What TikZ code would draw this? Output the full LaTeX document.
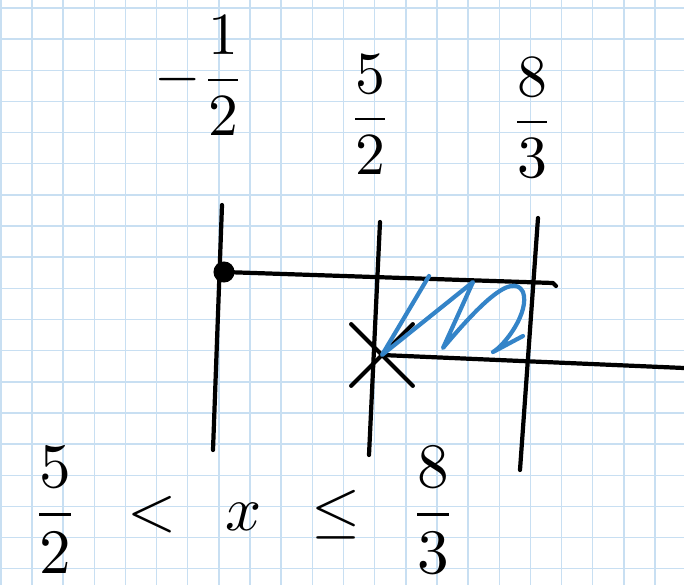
\documentclass[tikz,border=0pt]{standalone}
\usepackage{amsmath,amssymb}
\usetikzlibrary{shapes.misc}
\definecolor{gridblue}{RGB}{200,223,242}
\definecolor{hatchblue}{RGB}{52,132,200}
\newcommand{\bigmath}[2][3.4]{\scalebox{#1}{$\displaystyle #2$}}

\begin{document}
\begin{tikzpicture}[x=0.02cm,y=-0.02cm,
		ink/.style={line width=2.4pt,line cap=round,line join=round},
		hatch/.style={ink,hatchblue},
		gridline/.style={gridblue,line width=0.8pt},
		bound/.style={inner sep=0pt},
		dot/.style={circle,fill=black,inner sep=0pt,minimum size=12pt},
		xmark/.style={cross out,draw,ink,inner sep=0pt,minimum size=1.15cm}]
		\useasboundingbox[fill=white] (0,0) rectangle (684,585);
		% squared paper
		\foreach \i in {0,...,21}
		\draw[gridline] ({0.85+31.15*\i},0) -- ({0.85+31.15*\i},585);
		\foreach \j in {0,...,18}
		\draw[gridline] (0,{8+31.15*\j}) -- (684,{8+31.15*\j});
		% the three bounds
		\node[bound] (mhalf) at (200,76) {\bigmath{-\frac{1}{2}}};
		\node[bound] (fhalf) at (370,115) {\bigmath{\frac{5}{2}}};
		\node[bound] (ethird) at (532,118) {\bigmath{\frac{8}{3}}};
		% vertical lines
		\coordinate (a top) at (222,205);
		\coordinate (a bot) at (213,450);
		\coordinate (b top) at (380,222);
		\coordinate (b bot) at (369,455);
		\coordinate (c top) at (538,218);
		\coordinate (c bot) at (520,470);
		\draw[ink] (a top) -- (a bot);
		\draw[ink] (b top) -- (b bot);
		\draw[ink] (c top) -- (c bot);
		% first condition: from -1/2 (included)
		\node[dot] (p) at (224,272) {};
		\coordinate (p end) at (553,283);
		\draw[ink] (p.center) -- (p end) -- ++(3,3);
		% second condition: from 5/2 (excluded)
		\node[xmark] (q) at (382,355) {};
		\coordinate (q end) at (684,368);
		\draw[ink] (q.center) -- (q end);
		% overlap
		\draw[hatch] (429,276) -- (q.center) -- (473,282) -- (443,348)
		.. controls (475,310) and (512,270) .. (523,292)
		.. controls (530,312) and (505,345) .. (493,352) -- (523,336);
		% solution
		\node[bound] (sol) at (244,510)
		{\bigmath[3.6]{\frac{5}{2}\enspace<\enspace x\enspace\le\enspace\frac{8}{3}}};
\end{tikzpicture}
\end{document}
